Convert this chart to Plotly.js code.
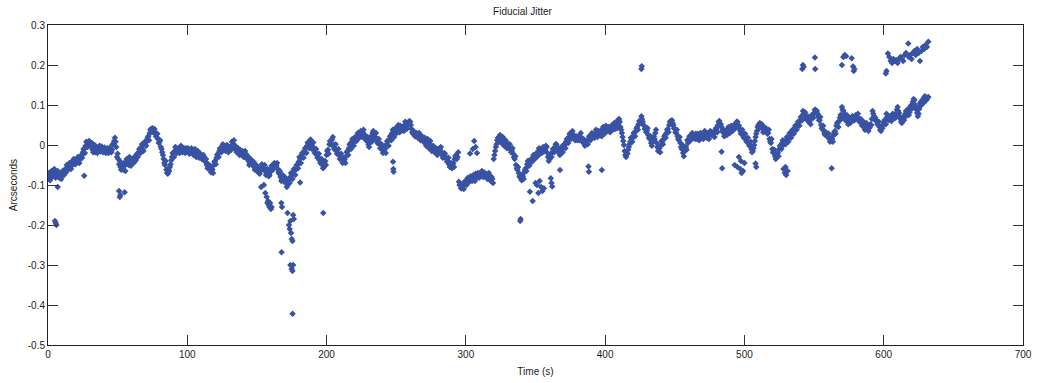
<!DOCTYPE html>
<html>
<head>
<meta charset="utf-8">
<script src="https://cdn.plot.ly/plotly-3.0.1.min.js"></script>
<style>html,body{margin:0;padding:0;background:#fff;}#chart{width:1045px;height:383px;}</style>
</head>
<body>
<div id="chart"></div>
<script>
// Main jitter samples, first pass (whole seconds)
const time = [
0,1,2,3,4,5,6,7,8,9,10,11,12,13,14,15,16,17,18,19,20,21,22,23,24,25,26,27,28,29,
30,31,32,33,34,35,36,37,38,39,40,41,42,43,44,45,46,47,48,49,50,51,52,53,54,55,56,57,58,59,
60,61,62,63,64,65,66,67,68,69,70,71,72,73,74,75,76,77,78,79,80,81,82,83,84,85,86,87,88,89,
90,91,92,93,94,95,96,97,98,99,100,101,102,103,104,105,106,107,108,109,110,111,112,113,114,115,116,117,118,119,
120,121,122,123,124,125,126,127,128,129,130,131,132,133,134,135,136,137,138,139,140,141,142,143,144,145,146,147,148,149,
150,151,152,153,154,155,156,157,158,159,160,161,162,163,164,165,166,167,168,169,170,171,172,173,174,175,176,177,178,179,
180,181,182,183,184,185,186,187,188,189,190,191,192,193,194,195,196,197,198,199,200,201,202,203,204,205,206,207,208,209,
210,211,212,213,214,215,216,217,218,219,220,221,222,223,224,225,226,227,228,229,230,231,232,233,234,235,236,237,238,239,
240,241,242,243,244,245,246,247,248,249,250,251,252,253,254,255,256,257,258,259,260,261,262,263,264,265,266,267,268,269,
270,271,272,273,274,275,276,277,278,279,280,281,282,283,284,285,286,287,288,289,290,291,292,293,294,295,296,297,298,299,
300,301,302,303,304,305,306,307,308,309,310,311,312,313,314,315,316,317,318,319,320,321,322,323,324,325,326,327,328,329,
330,331,332,333,334,335,336,337,338,339,340,341,342,343,344,345,346,347,348,349,350,351,352,353,354,355,356,357,358,359,
360,361,362,363,364,365,366,367,368,369,370,371,372,373,374,375,376,377,378,379,380,381,382,383,384,385,386,387,388,389,
390,391,392,393,394,395,396,397,398,399,400,401,402,403,404,405,406,407,408,409,410,411,412,413,414,415,416,417,418,419,
420,421,422,423,424,425,426,427,428,429,430,431,432,433,434,435,436,437,438,439,440,441,442,443,444,445,446,447,448,449,
450,451,452,453,454,455,456,457,458,459,460,461,462,463,464,465,466,467,468,469,470,471,472,473,474,475,476,477,478,479,
480,481,482,483,484,485,486,487,488,489,490,491,492,493,494,495,496,497,498,499,500,501,502,503,504,505,506,507,508,509,
510,511,512,513,514,515,516,517,518,519,520,521,522,523,524,525,526,527,528,529,530,531,532,533,534,535,536,537,538,539,
540,541,542,543,544,545,546,547,548,549,550,551,552,553,554,555,556,557,558,559,560,561,562,563,564,565,566,567,568,569,
570,571,572,573,574,575,576,577,578,579,580,581,582,583,584,585,586,587,588,589,590,591,592,593,594,595,596,597,598,599,
600,601,602,603,604,605,606,607,608,609,610,611,612,613,614,615,616,617,618,619,620,621,622,623,624,625,626,627,628,629,
630,631,632];
const jitter = [
-0.085,-0.078,-0.072,-0.08,-0.068,-0.07,-0.075,-0.065,-0.082,-0.078,
-0.074,-0.068,-0.062,-0.058,-0.064,-0.05,-0.055,-0.042,-0.045,-0.038,
-0.047,-0.04,-0.033,-0.036,-0.025,-0.018,-0.01,-0.002,0.006,0.003,
0.008,-0.004,-0.012,-0.008,-0.018,-0.014,-0.006,-0.002,-0.012,-0.008,
-0.014,-0.01,-0.018,-0.012,-0.016,-0.008,-0.012,0.004,0.018,-0.005,
-0.022,-0.048,-0.055,-0.05,-0.062,-0.052,-0.044,-0.036,-0.05,-0.04,
-0.046,-0.036,-0.03,-0.038,-0.022,-0.018,-0.012,-0.005,-0.01,0.002,
0.006,0.01,0.022,0.03,0.04,0.042,0.035,0.028,0.02,0.015,
0.008,-0.005,-0.018,-0.035,-0.05,-0.062,-0.072,-0.065,-0.048,-0.03,
-0.022,-0.015,-0.01,-0.018,-0.008,-0.012,-0.005,-0.015,-0.01,-0.008,
-0.016,-0.012,-0.02,-0.008,-0.015,-0.022,-0.018,-0.028,-0.02,-0.03,
-0.025,-0.035,-0.03,-0.042,-0.05,-0.048,-0.06,-0.068,-0.062,-0.05,
-0.04,-0.032,-0.022,-0.015,-0.01,-0.005,-0.012,-0.002,-0.01,-0.008,
-0.015,-0.004,0.008,0.002,-0.01,-0.006,-0.015,-0.018,-0.012,-0.025,
-0.02,-0.028,-0.022,-0.035,-0.04,-0.045,-0.038,-0.05,-0.055,-0.06,
-0.065,-0.058,-0.072,-0.06,-0.052,-0.058,-0.065,-0.07,-0.062,-0.075,
-0.06,-0.055,-0.05,-0.048,-0.052,-0.06,-0.072,-0.08,-0.085,-0.078,
-0.09,-0.095,-0.1,-0.085,-0.08,-0.075,-0.07,-0.065,-0.06,-0.05,
-0.042,-0.035,-0.028,-0.022,-0.015,-0.008,-0.002,0.004,0.008,0.0,
-0.004,-0.012,-0.018,-0.025,-0.03,-0.038,-0.045,-0.05,-0.055,-0.04,
-0.025,-0.012,0.002,0.01,0.014,0.0,-0.008,-0.015,-0.02,-0.025,
-0.03,-0.035,-0.042,-0.036,-0.028,-0.015,-0.008,0.0,0.008,0.005,
0.012,0.018,0.022,0.028,0.03,0.024,0.032,0.018,0.022,0.01,
0.002,0.012,0.018,0.03,0.024,0.02,0.015,0.008,0.002,-0.006,
-0.012,-0.016,-0.01,0.002,0.008,0.014,0.022,0.03,0.026,0.035,
0.038,0.045,0.04,0.048,0.036,0.044,0.05,0.046,0.055,0.052,
0.058,0.04,0.028,0.032,0.022,0.028,0.02,0.025,0.015,0.018,
0.01,0.005,0.008,0.0,0.002,-0.008,-0.012,-0.006,-0.015,-0.018,
-0.01,-0.02,-0.005,-0.025,-0.03,-0.022,-0.035,-0.04,-0.048,-0.052,
-0.058,-0.045,-0.035,-0.025,-0.03,-0.092,-0.1,-0.108,-0.102,-0.096,
-0.095,-0.09,-0.085,-0.088,-0.08,-0.085,-0.078,-0.072,-0.08,-0.075,
-0.07,-0.078,-0.072,-0.068,-0.08,-0.075,-0.082,-0.078,-0.09,-0.085,
-0.035,-0.015,0.002,0.018,0.02,0.012,0.015,0.005,0.008,0.0,
0.004,-0.008,-0.01,-0.015,-0.022,-0.035,-0.05,-0.062,-0.07,-0.082,
-0.088,-0.078,-0.068,-0.058,-0.048,-0.04,-0.045,-0.035,-0.032,-0.025,
-0.03,-0.02,-0.015,-0.022,-0.01,-0.018,-0.008,-0.012,-0.005,-0.03,
-0.035,-0.022,-0.018,-0.01,-0.005,0.002,-0.008,-0.02,-0.015,-0.01,
-0.005,0.0,0.008,0.012,0.02,0.025,0.028,0.018,0.022,0.015,
0.012,0.02,0.022,0.015,0.008,0.005,0.002,0.01,0.015,0.02,
0.022,0.018,0.025,0.03,0.028,0.035,0.025,0.03,0.038,0.032,
0.04,0.045,0.038,0.042,0.035,0.045,0.048,0.04,0.05,0.062,
0.065,0.045,0.03,0.01,-0.015,-0.03,-0.022,-0.005,0.008,0.015,
0.022,0.03,0.035,0.045,0.052,0.06,0.072,0.058,0.048,0.04,
0.035,0.025,0.015,0.005,0.008,0.022,0.03,0.005,-0.015,-0.008,
0.0,0.008,0.015,0.025,0.03,0.04,0.05,0.06,0.062,0.05,
0.04,0.03,0.022,0.012,0.005,-0.01,-0.02,-0.015,-0.005,0.012,
0.015,0.02,0.025,0.018,0.022,0.028,0.015,0.022,0.025,0.018,
0.022,0.028,0.02,0.018,0.025,0.03,0.032,0.025,0.028,0.035,
0.04,0.05,0.06,0.052,0.035,0.03,0.028,0.032,0.04,0.035,
0.04,0.045,0.042,0.05,0.052,0.058,0.048,0.035,0.03,0.025,
0.02,0.015,0.01,0.005,0.0,-0.01,-0.015,0.0,0.02,0.035,
0.05,0.055,0.045,0.04,0.045,0.035,0.038,0.03,0.015,0.005,
-0.01,-0.02,-0.028,-0.03,-0.02,-0.01,-0.002,0.005,0.0,0.008,
0.012,0.015,0.022,0.025,0.03,0.035,0.04,0.045,0.052,0.055,
0.062,0.07,0.085,0.075,0.072,0.065,0.058,0.06,0.068,0.075,
0.08,0.088,0.085,0.07,0.062,0.05,0.04,0.035,0.025,0.03,
0.02,0.015,0.01,0.015,0.025,0.035,0.048,0.055,0.06,0.075,
0.095,0.085,0.07,0.068,0.06,0.062,0.055,0.065,0.07,0.062,
0.075,0.07,0.065,0.06,0.055,0.05,0.045,0.048,0.04,0.035,
0.045,0.05,0.085,0.072,0.068,0.06,0.05,0.045,0.035,0.042,
0.055,0.06,0.078,0.07,0.065,0.068,0.072,0.065,0.075,0.08,
0.095,0.08,0.065,0.055,0.07,0.068,0.085,0.08,0.075,0.09,
0.1,0.108,0.112,0.095,0.08,0.078,0.105,0.1,0.11,0.118,
0.12,0.115,0.12];

// Main jitter samples, second pass (half seconds)
const timeB = [
0.5,1.5,2.5,3.5,4.5,5.5,6.5,7.5,8.5,9.5,10.5,11.5,12.5,13.5,14.5,15.5,16.5,17.5,18.5,19.5,
20.5,21.5,22.5,23.5,24.5,25.5,26.5,27.5,28.5,29.5,30.5,31.5,32.5,33.5,34.5,35.5,36.5,37.5,38.5,39.5,
40.5,41.5,42.5,43.5,44.5,45.5,46.5,47.5,48.5,49.5,50.5,51.5,52.5,53.5,54.5,55.5,56.5,57.5,58.5,59.5,
60.5,61.5,62.5,63.5,64.5,65.5,66.5,67.5,68.5,69.5,70.5,71.5,72.5,73.5,74.5,75.5,76.5,77.5,78.5,79.5,
80.5,81.5,82.5,83.5,84.5,85.5,86.5,87.5,88.5,89.5,90.5,91.5,92.5,93.5,94.5,95.5,96.5,97.5,98.5,99.5,
100.5,101.5,102.5,103.5,104.5,105.5,106.5,107.5,108.5,109.5,110.5,111.5,112.5,113.5,114.5,115.5,116.5,117.5,118.5,119.5,
120.5,121.5,122.5,123.5,124.5,125.5,126.5,127.5,128.5,129.5,130.5,131.5,132.5,133.5,134.5,135.5,136.5,137.5,138.5,139.5,
140.5,141.5,142.5,143.5,144.5,145.5,146.5,147.5,148.5,149.5,150.5,151.5,152.5,153.5,154.5,155.5,156.5,157.5,158.5,159.5,
160.5,161.5,162.5,163.5,164.5,165.5,166.5,167.5,168.5,169.5,170.5,171.5,172.5,173.5,174.5,175.5,176.5,177.5,178.5,179.5,
180.5,181.5,182.5,183.5,184.5,185.5,186.5,187.5,188.5,189.5,190.5,191.5,192.5,193.5,194.5,195.5,196.5,197.5,198.5,199.5,
200.5,201.5,202.5,203.5,204.5,205.5,206.5,207.5,208.5,209.5,210.5,211.5,212.5,213.5,214.5,215.5,216.5,217.5,218.5,219.5,
220.5,221.5,222.5,223.5,224.5,225.5,226.5,227.5,228.5,229.5,230.5,231.5,232.5,233.5,234.5,235.5,236.5,237.5,238.5,239.5,
240.5,241.5,242.5,243.5,244.5,245.5,246.5,247.5,248.5,249.5,250.5,251.5,252.5,253.5,254.5,255.5,256.5,257.5,258.5,259.5,
260.5,261.5,262.5,263.5,264.5,265.5,266.5,267.5,268.5,269.5,270.5,271.5,272.5,273.5,274.5,275.5,276.5,277.5,278.5,279.5,
280.5,281.5,282.5,283.5,284.5,285.5,286.5,287.5,288.5,289.5,290.5,291.5,292.5,293.5,294.5,295.5,296.5,297.5,298.5,299.5,
300.5,301.5,302.5,303.5,304.5,305.5,306.5,307.5,308.5,309.5,310.5,311.5,312.5,313.5,314.5,315.5,316.5,317.5,318.5,319.5,
320.5,321.5,322.5,323.5,324.5,325.5,326.5,327.5,328.5,329.5,330.5,331.5,332.5,333.5,334.5,335.5,336.5,337.5,338.5,339.5,
340.5,341.5,342.5,343.5,344.5,345.5,346.5,347.5,348.5,349.5,350.5,351.5,352.5,353.5,354.5,355.5,356.5,357.5,358.5,359.5,
360.5,361.5,362.5,363.5,364.5,365.5,366.5,367.5,368.5,369.5,370.5,371.5,372.5,373.5,374.5,375.5,376.5,377.5,378.5,379.5,
380.5,381.5,382.5,383.5,384.5,385.5,386.5,387.5,388.5,389.5,390.5,391.5,392.5,393.5,394.5,395.5,396.5,397.5,398.5,399.5,
400.5,401.5,402.5,403.5,404.5,405.5,406.5,407.5,408.5,409.5,410.5,411.5,412.5,413.5,414.5,415.5,416.5,417.5,418.5,419.5,
420.5,421.5,422.5,423.5,424.5,425.5,426.5,427.5,428.5,429.5,430.5,431.5,432.5,433.5,434.5,435.5,436.5,437.5,438.5,439.5,
440.5,441.5,442.5,443.5,444.5,445.5,446.5,447.5,448.5,449.5,450.5,451.5,452.5,453.5,454.5,455.5,456.5,457.5,458.5,459.5,
460.5,461.5,462.5,463.5,464.5,465.5,466.5,467.5,468.5,469.5,470.5,471.5,472.5,473.5,474.5,475.5,476.5,477.5,478.5,479.5,
480.5,481.5,482.5,483.5,484.5,485.5,486.5,487.5,488.5,489.5,490.5,491.5,492.5,493.5,494.5,495.5,496.5,497.5,498.5,499.5,
500.5,501.5,502.5,503.5,504.5,505.5,506.5,507.5,508.5,509.5,510.5,511.5,512.5,513.5,514.5,515.5,516.5,517.5,518.5,519.5,
520.5,521.5,522.5,523.5,524.5,525.5,526.5,527.5,528.5,529.5,530.5,531.5,532.5,533.5,534.5,535.5,536.5,537.5,538.5,539.5,
540.5,541.5,542.5,543.5,544.5,545.5,546.5,547.5,548.5,549.5,550.5,551.5,552.5,553.5,554.5,555.5,556.5,557.5,558.5,559.5,
560.5,561.5,562.5,563.5,564.5,565.5,566.5,567.5,568.5,569.5,570.5,571.5,572.5,573.5,574.5,575.5,576.5,577.5,578.5,579.5,
580.5,581.5,582.5,583.5,584.5,585.5,586.5,587.5,588.5,589.5,590.5,591.5,592.5,593.5,594.5,595.5,596.5,597.5,598.5,599.5,
600.5,601.5,602.5,603.5,604.5,605.5,606.5,607.5,608.5,609.5,610.5,611.5,612.5,613.5,614.5,615.5,616.5,617.5,618.5,619.5,
620.5,621.5,622.5,623.5,624.5,625.5,626.5,627.5,628.5,629.5,630.5,631.5];
const jitterB = [
-0.07,-0.088,-0.065,-0.075,-0.06,-0.082,-0.068,-0.078,-0.07,-0.085,
-0.065,-0.075,-0.07,-0.05,-0.058,-0.045,-0.06,-0.05,-0.035,-0.048,
-0.038,-0.03,-0.045,-0.028,-0.032,-0.01,-0.02,0.008,-0.005,0.01,
-0.002,0.005,-0.018,0.0,-0.01,-0.02,-0.012,-0.016,-0.004,-0.018,
-0.006,-0.02,-0.008,-0.02,-0.006,-0.018,0.002,0.01,0.008,-0.03,
-0.035,-0.04,-0.062,-0.058,-0.045,-0.065,-0.035,-0.048,-0.03,-0.052,
-0.035,-0.045,-0.04,-0.025,-0.03,-0.01,-0.02,0.002,-0.015,0.008,
-0.002,0.018,0.012,0.038,0.032,0.035,0.04,0.022,0.028,0.005,
0.012,-0.01,-0.025,-0.045,-0.04,-0.07,-0.06,-0.055,-0.038,-0.02,
-0.03,-0.005,-0.02,-0.01,-0.02,-0.002,-0.018,-0.008,-0.02,-0.015,
-0.008,-0.022,-0.012,-0.018,-0.025,-0.01,-0.03,-0.015,-0.032,-0.022,
-0.035,-0.025,-0.04,-0.035,-0.058,-0.055,-0.052,-0.058,-0.07,-0.042,
-0.048,-0.025,-0.03,-0.008,-0.018,0.002,-0.004,-0.015,0.0,-0.018,
-0.005,-0.012,0.0,0.012,-0.002,-0.018,-0.008,-0.025,-0.02,-0.015,
-0.03,-0.015,-0.032,-0.028,-0.05,-0.035,-0.048,-0.042,-0.062,-0.05,
-0.055,-0.07,-0.062,-0.048,-0.062,-0.05,-0.075,-0.06,-0.078,-0.068,
-0.052,-0.062,-0.045,-0.055,-0.045,-0.068,-0.065,-0.09,-0.075,-0.092,
-0.082,-0.105,-0.09,-0.095,-0.07,-0.085,-0.06,-0.075,-0.05,-0.058,
-0.03,-0.045,-0.02,-0.032,-0.008,-0.02,0.006,-0.008,0.014,-0.01,
0.006,-0.02,-0.01,-0.032,-0.022,-0.045,-0.035,-0.058,-0.045,-0.05,
-0.015,-0.022,0.01,0.0,0.02,-0.01,0.002,-0.022,-0.01,-0.035,
-0.022,-0.045,-0.032,-0.045,-0.018,-0.025,0.002,-0.01,0.015,-0.002,
0.02,0.01,0.03,0.018,0.035,0.02,0.038,0.025,0.012,0.02,
-0.005,0.02,0.008,0.035,0.015,0.03,0.005,0.015,-0.008,0.002,
-0.02,-0.005,-0.02,0.01,-0.002,0.022,0.012,0.038,0.02,0.042,
0.03,0.05,0.032,0.04,0.045,0.035,0.058,0.04,0.048,0.06,
0.05,0.032,0.035,0.022,0.03,0.018,0.03,0.012,0.022,0.008,
0.018,-0.002,0.015,-0.008,0.01,-0.015,-0.002,-0.018,-0.008,-0.025,
-0.02,-0.01,-0.018,-0.032,-0.02,-0.03,-0.042,-0.032,-0.055,-0.045,
-0.048,-0.055,-0.028,-0.035,-0.018,-0.1,-0.108,-0.098,-0.11,-0.09,
-0.1,-0.082,-0.092,-0.078,-0.09,-0.075,-0.09,-0.08,-0.07,-0.082,
-0.078,-0.065,-0.08,-0.075,-0.072,-0.085,-0.07,-0.088,-0.08,-0.095,
-0.025,-0.005,0.012,0.01,0.025,0.005,0.02,-0.002,0.012,-0.008,
-0.004,0.002,-0.018,-0.008,-0.03,-0.028,-0.058,-0.055,-0.078,-0.075,
-0.08,-0.085,-0.062,-0.065,-0.04,-0.052,-0.038,-0.042,-0.025,-0.035,
-0.022,-0.028,-0.008,-0.015,-0.02,-0.005,-0.015,-0.002,-0.02,-0.04,
-0.028,-0.03,-0.01,-0.018,0.002,-0.005,-0.015,-0.025,-0.005,-0.018,
0.002,-0.008,0.015,0.005,0.028,0.015,0.035,0.025,0.012,0.022,
0.02,0.012,0.03,0.008,0.015,-0.002,0.01,0.002,0.022,0.012,
0.03,0.025,0.018,0.038,0.02,0.03,0.035,0.022,0.045,0.028,
0.048,0.035,0.045,0.032,0.048,0.038,0.055,0.045,0.042,0.055,
0.058,0.038,0.02,0.0,-0.025,-0.02,-0.012,0.002,0.018,0.008,
0.03,0.022,0.042,0.038,0.06,0.055,0.065,0.05,0.04,0.032,
0.042,0.018,0.022,-0.002,0.018,0.015,0.038,-0.005,-0.008,-0.018,
0.01,0.002,0.022,0.018,0.038,0.032,0.058,0.052,0.055,0.042,
0.032,0.038,0.015,0.02,-0.005,0.0,-0.028,-0.008,-0.012,0.005,
0.022,0.012,0.03,0.025,0.015,0.02,0.028,0.012,0.03,0.025,
0.015,0.035,0.025,0.028,0.015,0.035,0.025,0.032,0.02,0.042,
0.032,0.058,0.052,0.045,0.04,0.022,0.035,0.025,0.045,0.03,
0.048,0.035,0.05,0.042,0.058,0.05,0.04,0.028,0.038,0.018,
0.028,0.008,0.018,-0.002,0.008,-0.018,-0.008,0.01,0.028,0.045,
0.042,0.048,0.052,0.032,0.038,0.042,0.028,0.038,0.008,0.015,
-0.018,-0.012,-0.035,-0.022,-0.028,-0.002,-0.01,0.012,0.008,0.002,
0.02,0.008,0.03,0.018,0.038,0.028,0.048,0.038,0.058,0.048,
0.07,0.062,0.078,0.082,0.065,0.072,0.065,0.052,0.075,0.068,
0.088,0.08,0.078,0.062,0.07,0.042,0.048,0.028,0.032,0.022,
0.028,0.008,0.018,0.008,0.032,0.028,0.055,0.045,0.068,0.065,
0.088,0.078,0.062,0.075,0.052,0.068,0.06,0.072,0.062,0.07,
0.068,0.078,0.058,0.065,0.048,0.058,0.038,0.055,0.045,0.042,
0.052,0.065,0.078,0.065,0.06,0.052,0.058,0.038,0.042,0.05,
0.062,0.052,0.07,0.062,0.072,0.06,0.078,0.07,0.068,0.088,
0.085,0.072,0.058,0.065,0.062,0.078,0.075,0.09,0.082,0.098,
0.092,0.115,0.1,0.088,0.072,0.09,0.098,0.112,0.105,0.122,
0.112,0.118];

// Off-track samples below and above the main band
const strayTime = [5,5.5,6,7,26,51,51.5,52,55,153,155,156,157,157.5,158,158.5,159,159.5,160,160.5,
167.5,168,167.7,172,173,173.5,174,174.5,175,175.5,176,176.5,174,175,175.5,176,175.6,181,197.6,
247.7,247.9,248.1,303,305,306,307,308,339,339.3,346,348,350,351,352,353,354,355,356,361,361.5,362,367.6,
388,388.3,397.6,426,426.3,483.6,484,493,495,496,497,497.5,498,499,500,508,508.5,528,529,529.5,530,531,562.6];
const strayY = [-0.19,-0.195,-0.2,-0.105,-0.077,-0.115,-0.13,-0.125,-0.118,-0.105,-0.1,-0.12,-0.13,-0.145,-0.14,-0.15,-0.155,-0.145,-0.16,-0.155,
-0.145,-0.155,-0.268,-0.17,-0.2,-0.21,-0.19,-0.22,-0.235,-0.24,-0.175,-0.185,-0.3,-0.31,-0.315,-0.3,-0.422,-0.094,-0.17,
-0.042,-0.06,-0.067,-0.021,-0.01,0.01,-0.005,-0.02,-0.19,-0.185,-0.117,-0.14,-0.095,-0.1,-0.12,-0.09,-0.105,-0.115,-0.108,-0.083,-0.095,-0.104,-0.0625,
-0.054,-0.067,-0.0625,0.19,0.197,-0.017,-0.058,-0.05,-0.055,-0.03,-0.06,-0.04,-0.07,-0.065,-0.045,-0.046,-0.055,-0.06,-0.07,-0.055,-0.075,-0.065,-0.058];

// Upper band of samples late in the run
const upperTime = [541.5,542,542.5,550.6,550.8,570,571,572,573,577,578,578.5,579,
601.5,602,603,604,605,606,607,608,609,610,611,612,613,614,615,616,617.6,618,619,620,621,622,623,624,625,626,627,628,629,630,631,632];
const upperY = [0.19,0.2,0.195,0.219,0.19,0.2,0.22,0.225,0.222,0.217,0.196,0.185,0.19,
0.179,0.185,0.229,0.22,0.21,0.205,0.215,0.21,0.2125,0.205,0.215,0.22,0.215,0.21,0.225,0.23,0.254,0.22,0.225,0.215,0.23,0.235,0.225,0.24,0.23,0.21,0.235,0.245,0.24,0.25,0.245,0.258];

const yTickVals = [0.3,0.2,0.1,0,-0.1,-0.2,-0.3,-0.4,-0.5];
const yTickText = ['0.3','0.2','0.1','0','-0.1','-0.2','-0.3','-0.4','-0.5'];
const xTickVals = [0,100,200,300,400,500,600,700];
const xTickText = ['0','100','200','300','400','500','600','700'];

const markerStyle = {symbol:'diamond', size:5, color:'#3953a4'};
const traces = [
  {x: time, y: jitter, type:'scatter', mode:'markers', marker: markerStyle},
  {x: timeB, y: jitterB, type:'scatter', mode:'markers', marker: markerStyle},
  {x: strayTime, y: strayY, type:'scatter', mode:'markers', marker: markerStyle},
  {x: upperTime, y: upperY, type:'scatter', mode:'markers', marker: markerStyle}
];

const fontCommon = {family:'Liberation Sans, Arial, sans-serif', size:10, color:'#222'};
const axisCommon = {
  showline:true, linecolor:'#222', linewidth:1, mirror:'ticks',
  ticks:'inside', ticklen:10, tickcolor:'#333', tickwidth:1,
  showgrid:false, zeroline:false, tickfont:fontCommon
};

const layout = {
  width:1045, height:383,
  margin:{l:48, r:22, t:25, b:38},
  paper_bgcolor:'#fff', plot_bgcolor:'#fff',
  showlegend:false,
  title:{text:'Fiducial Jitter', font:fontCommon, x:0.5, xanchor:'center', y:0.969, yanchor:'middle'},
  xaxis: Object.assign({}, axisCommon, {
    range:[0,700], tickvals:xTickVals, ticktext:xTickText,
    title:{text:'Time (s)', font:fontCommon, standoff:8}
  }),
  yaxis: Object.assign({}, axisCommon, {
    range:[-0.5,0.3], tickvals:yTickVals, ticktext:yTickText,
    title:{text:'Arcseconds', font:fontCommon, standoff:8}
  })
};

Plotly.newPlot('chart', traces, layout, {displayModeBar:false, staticPlot:true});
</script>
</body>
</html>
